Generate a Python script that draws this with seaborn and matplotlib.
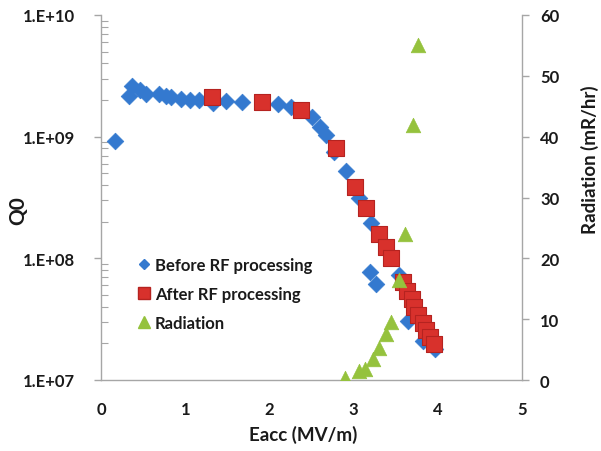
import numpy as np
import pandas as pd
import matplotlib
matplotlib.use("Agg")
import matplotlib.pyplot as plt
from matplotlib.lines import Line2D
from matplotlib.ticker import LogLocator, NullFormatter, FixedLocator
import seaborn as sns

# Q0 vs accelerating field, before RF processing
before_eacc = [0.17, 0.33, 0.37, 0.46, 0.54, 0.69, 0.77, 0.83, 0.95, 1.06,
               1.16, 1.33, 1.49, 1.67, 2.10, 2.26, 2.50, 2.60, 2.67, 2.77,
               2.91, 3.06, 3.21, 3.20, 3.27, 3.54, 3.65, 3.83, 3.97]
before_q0 = [9.2e8, 2.15e9, 2.62e9, 2.43e9, 2.25e9, 2.23e9, 2.17e9, 2.11e9, 2.03e9, 2.02e9,
             2.0e9, 1.9e9, 1.95e9, 1.94e9, 1.86e9, 1.74e9, 1.44e9, 1.19e9, 1.03e9, 7.45e8,
             5.26e8, 3.12e8, 1.94e8, 7.7e7, 6.2e7, 7.35e7, 3.05e7, 2.1e7, 1.8e7]

# Q0 vs accelerating field, after RF processing
after_eacc = [1.32, 1.91, 2.37, 2.79, 3.02, 3.15, 3.30, 3.38, 3.45,
              3.59, 3.64, 3.69, 3.72, 3.77, 3.82, 3.86, 3.91, 3.95]
after_q0 = [2.13e9, 1.94e9, 1.66e9, 8.1e8, 3.84e8, 2.58e8, 1.57e8, 1.25e8, 1.0e8,
            6.4e7, 5.4e7, 4.64e7, 3.99e7, 3.43e7, 2.95e7, 2.58e7, 2.26e7, 1.98e7]

# Field emission radiation (mR/hr)
rad_eacc = [2.90, 3.07, 3.14, 3.23, 3.30, 3.38, 3.44, 3.54, 3.61, 3.70, 3.77]
rad_dose = [0.3, 1.4, 1.8, 3.5, 5.2, 7.6, 9.6, 16.4, 24.0, 42.0, 55.0]

x_ticks = [0, 1, 2, 3, 4, 5]
q0_ticks = [1e7, 1e8, 1e9, 1e10]
q0_labels = ["1.E+07", "1.E+08", "1.E+09", "1.E+10"]
rad_ticks = [0, 10, 20, 30, 40, 50, 60]

blue = "#3479cf"
red = "#d8312c"
red_edge = "#b52320"
green = "#95c23d"
axis_grey = "#a6a6a6"
text_col = "#1a1a1a"

sns.set_theme(style="white")
plt.rcParams["font.family"] = ["Lato", "DejaVu Sans"]
plt.rcParams["font.weight"] = "bold"

df_before = pd.DataFrame({"Eacc": before_eacc, "Q0": before_q0})
df_after = pd.DataFrame({"Eacc": after_eacc, "Q0": after_q0})
df_rad = pd.DataFrame({"Eacc": rad_eacc, "Rad": rad_dose})

fig = plt.figure(figsize=(6.01, 4.52), dpi=100)
ax = fig.add_axes([101 / 601, 1 - 381 / 452, (522 - 101) / 601, (381 - 16) / 452])

sns.scatterplot(data=df_before, x="Eacc", y="Q0", ax=ax, marker="D", s=72,
                color=blue, edgecolor=blue, linewidth=0.5, zorder=3, legend=False)
sns.scatterplot(data=df_after, x="Eacc", y="Q0", ax=ax, marker="s", s=120,
                color=red, edgecolor=red_edge, linewidth=0.8, zorder=4, legend=False)

ax.set_yscale("log")
ax.set_xlim(0, 5)
ax.set_ylim(1e7, 1e10)
ax.yaxis.set_major_locator(FixedLocator(q0_ticks))
ax.set_yticklabels(q0_labels)
ax.yaxis.set_minor_locator(LogLocator(base=10, subs=np.arange(2, 10)))
ax.yaxis.set_minor_formatter(NullFormatter())
ax.set_xticks(x_ticks)
ax.set_xticklabels([str(t) for t in x_ticks])

ax2 = ax.twinx()
sns.scatterplot(data=df_rad, x="Eacc", y="Rad", ax=ax2, marker="^", s=110,
                color=green, edgecolor=green, linewidth=0.5, zorder=5, legend=False)
ax2.set_ylim(0, 60)
ax2.set_yticks(rad_ticks)
ax2.set_xlim(0, 5)

for a in (ax, ax2):
    a.spines["top"].set_visible(False)
    for side in ("left", "right", "bottom"):
        a.spines[side].set_color(axis_grey)
        a.spines[side].set_linewidth(1.0)
    a.set_facecolor("none")
ax.spines["right"].set_visible(False)
ax2.spines["left"].set_visible(False)
ax2.spines["bottom"].set_visible(False)

ax.tick_params(axis="x", which="major", direction="out", length=5, width=1,
               color=axis_grey, labelsize=12, labelcolor=text_col, pad=10)
ax.tick_params(axis="y", which="major", direction="out", length=5, width=1,
               color=axis_grey, labelsize=12, labelcolor=text_col, pad=14)
ax.tick_params(axis="y", which="minor", direction="in", length=5, width=0.8,
               color=axis_grey, left=True)
ax2.tick_params(axis="y", which="major", direction="out", length=5, width=1,
                color=axis_grey, labelsize=12, labelcolor=text_col, pad=8)

ax.set_xlabel("Eacc (MV/m)", fontsize=13.5, fontweight="bold", color=text_col)
ax.set_ylabel("Q0", fontsize=15, fontweight="bold", color=text_col)
ax2.set_ylabel("Radiation (mR/hr)", fontsize=13.5, fontweight="bold", color=text_col)
ax.xaxis.set_label_coords(0.481, -0.122)
ax.yaxis.set_label_coords(-0.172, 0.468)
ax2.yaxis.set_label_coords(1.140, 0.605)
ax.grid(False)
ax2.grid(False)

handles = [
    Line2D([], [], linestyle="none", marker="D", markersize=5.5, color=blue, markeredgecolor=blue),
    Line2D([], [], linestyle="none", marker="s", markersize=8, color=red, markeredgecolor=red_edge),
    Line2D([], [], linestyle="none", marker="^", markersize=8, color=green, markeredgecolor=green),
]
labels = ["Before RF processing", "After RF processing", "Radiation"]
leg = ax2.legend(handles, labels, loc="upper left", bbox_to_anchor=(0.088, 0.338),
                 frameon=False, fontsize=12, handlelength=0.7, handletextpad=0.3,
                 labelspacing=0.8, borderaxespad=0, borderpad=0)
for t in leg.get_texts():
    t.set_fontweight("bold")
    t.set_color(text_col)

fig.savefig("out.png", dpi=100)
